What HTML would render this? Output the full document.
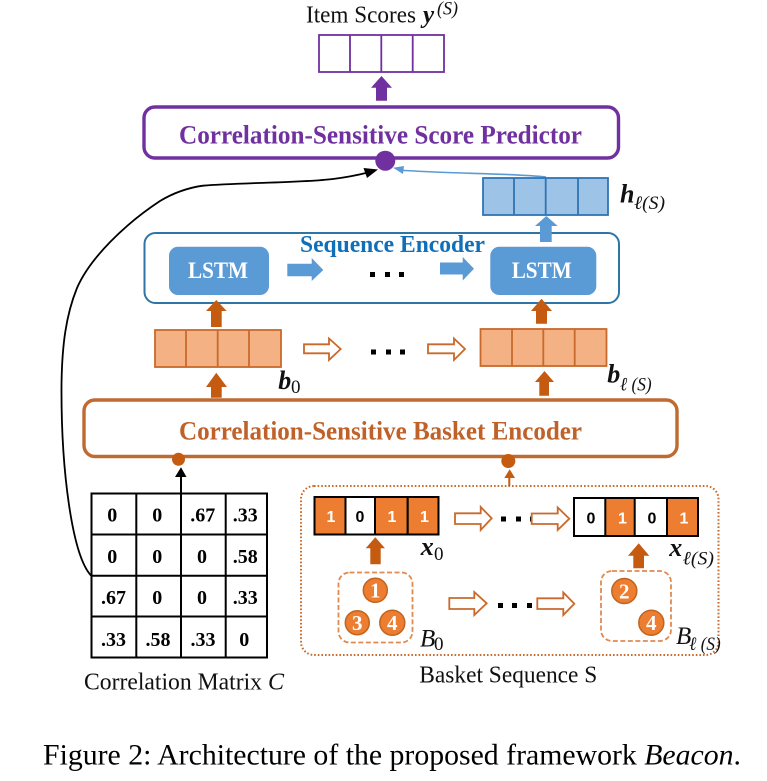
<!DOCTYPE html>
<html><head><meta charset="utf-8"><style>
html,body{margin:0;padding:0;background:#fff;width:767px;height:781px;overflow:hidden}
svg{display:block}
text{font-family:"Liberation Serif",serif}
.b{font-weight:bold}
.i{font-style:italic}
.bi{font-weight:bold;font-style:italic}
.m{font-weight:bold;font-size:20px;text-anchor:middle;fill:#000}
.v{font-family:"Liberation Sans",sans-serif;font-weight:bold;font-size:16px;text-anchor:middle}
.n{font-weight:bold;font-size:22px;text-anchor:middle;fill:#fff}
.l{font-size:24px;fill:#111}
.s{font-style:italic;font-size:19px;fill:#111}
</style></head><body>
<svg width="767" height="781" viewBox="0 0 767 781" xmlns="http://www.w3.org/2000/svg">
<rect width="767" height="781" fill="#fff"/>

<!-- top -->
<text x="306" y="22.5" font-size="24" fill="#111" textLength="110" lengthAdjust="spacingAndGlyphs">Item Scores</text>
<text x="423" y="22.5" font-size="25" class="bi" fill="#111">y</text>
<text x="437" y="14.5" class="s" textLength="21" lengthAdjust="spacingAndGlyphs">(S)</text>
<g fill="none" stroke="#7030A0" stroke-width="1.8">
<rect x="319" y="35" width="125" height="37"/>
<path d="M350 35V72M381.3 35V72M412.7 35V72"/>
</g>
<polygon points="376,100.7 376,87.7 371,87.7 381.5,76 392,87.7 387,87.7 387,100.7" fill="#7030A0"/>
<rect x="144" y="107" width="474.5" height="51" rx="11" fill="#fff" stroke="#7030A0" stroke-width="3.4"/>
<text x="179" y="143.5" font-size="26" class="b" fill="#7030A0" textLength="403" lengthAdjust="spacingAndGlyphs">Correlation-Sensitive Score Predictor</text>
<circle cx="385.3" cy="160.7" r="10" fill="#7030A0"/>

<!-- blue connector -->
<path d="M546 177 C 510 173 450 174 398 170" fill="none" stroke="#5B9BD5" stroke-width="1.6"/>
<polygon points="393,167.7 404,166 403,174" fill="#5B9BD5"/>
<!-- h array -->
<g fill="#9DC3E6" stroke="#2E75B6" stroke-width="1.8">
<rect x="483" y="178" width="125" height="37"/>
<path d="M514 178V215M545.7 178V215M578 178V215" fill="none"/>
</g>
<text x="620" y="202.7" font-size="26" class="bi" fill="#111">h</text>
<text x="634" y="209" class="s" textLength="31" lengthAdjust="spacingAndGlyphs">ℓ(S)</text>

<!-- sequence encoder -->
<rect x="144.5" y="233" width="474.5" height="70" rx="11" fill="none" stroke="#2E75A6" stroke-width="2"/>
<polygon points="540,242 540,226 535,226 546.3,216 557.7,226 551.7,226 551.7,242" fill="#5B9BD5"/>
<text x="300" y="252" font-size="24" class="b" fill="#0F6FB8" textLength="185" lengthAdjust="spacingAndGlyphs">Sequence Encoder</text>
<rect x="169" y="246.7" width="100" height="48.3" rx="9" fill="#5B9BD5"/>
<rect x="490.3" y="246.7" width="106" height="48.3" rx="9" fill="#5B9BD5"/>
<text x="188" y="278" font-size="23" class="b" fill="#fff" textLength="60" lengthAdjust="spacingAndGlyphs">LSTM</text>
<text x="511.7" y="278" font-size="23" class="b" fill="#fff" textLength="60" lengthAdjust="spacingAndGlyphs">LSTM</text>
<polygon points="287.3,263.7 311.7,263.7 311.7,258 323.3,270 311.7,281 311.7,276.3 287.3,276.3" fill="#5B9BD5"/>
<polygon points="440,262.5 462.7,262.5 462.7,257 474,268.7 462.7,280.5 462.7,274.5 440,274.5" fill="#5B9BD5"/>
<g fill="#000">
<rect x="370" y="272" width="5" height="5"/><rect x="385" y="272" width="5" height="5"/><rect x="399" y="272" width="5" height="5"/>
<rect x="371" y="349.5" width="5" height="5"/><rect x="386" y="349.5" width="5" height="5"/><rect x="400" y="349.5" width="5" height="5"/>
<rect x="501" y="516.5" width="5" height="5"/><rect x="516" y="516.5" width="5" height="5"/><rect x="530" y="516.5" width="5" height="5"/>
<rect x="498" y="603" width="5" height="5"/><rect x="512" y="603" width="5" height="5"/><rect x="527" y="603" width="5" height="5"/>
</g>

<!-- orange arrays -->
<g fill="#F4B183" stroke="#C96A2C" stroke-width="1.8">
<rect x="155" y="330" width="126" height="37"/>
<path d="M186 330V367M217.7 330V367M249 330V367" fill="none"/>
<rect x="480.5" y="329" width="126" height="37"/>
<path d="M512 329V366M543.3 329V366M574.7 329V366" fill="none"/>
</g>
<g fill="#C55A11">
<polygon points="211,327 211,311 206,311 216.3,300 226.7,311 221.7,311 221.7,327"/>
<polygon points="211,397.7 211,387 206,387 216.3,372.7 227,387 221.7,387 221.7,397.7"/>
<polygon points="536,323.7 536,311 531,311 541.5,298.7 552,311 547,311 547,323.7"/>
<polygon points="539.3,395.7 539.3,382 535,382 544.5,371 554,382 549,382 549,395.7"/>
<polygon points="370.3,564.3 370.3,548.3 365.7,548.3 375.3,537.3 385,548.3 380.7,548.3 380.7,564.3"/>
<polygon points="633.3,568.3 633.3,555.7 628,555.7 638.7,543.3 649.3,555.7 644,555.7 644,568.3"/>
</g>
<!-- hollow arrows -->
<g fill="#fff" stroke="#C96A2C" stroke-width="1.8">
<polygon points="304,344.3 329,344.3 329,338.5 340.7,349 329,360 329,353.3 304,353.3"/>
<polygon points="428,344.3 454,344.3 454,338.5 465,349 454,360 454,353.3 428,353.3"/>
<polygon points="455,513.3 480.7,513.3 480.7,507 491.7,518.3 480.7,530 480.7,524 455,524"/>
<polygon points="531.7,513.5 557.7,513.5 557.7,507.5 569.3,518.7 557.7,530 557.7,524 531.7,524"/>
<polygon points="449.3,598 474.3,598 474.3,592 486.7,603.3 474.3,615 474.3,609 449.3,609"/>
<polygon points="537.3,598.3 563.3,598.3 563.3,592.5 574.3,603.7 563.3,615 563.3,609 537.3,609"/>
</g>
<text x="278.3" y="389" font-size="26" class="bi" fill="#111">b</text>
<text x="291" y="393" font-size="19" fill="#111">0</text>
<text x="607.3" y="382.7" font-size="26" class="bi" fill="#111">b</text>
<text x="620" y="390.7" class="s" textLength="31.7" lengthAdjust="spacingAndGlyphs">ℓ (S)</text>

<!-- basket encoder -->
<rect x="84" y="400" width="593" height="56.5" rx="11" fill="#fff" stroke="#BF6A30" stroke-width="3.4"/>
<text x="179" y="439.5" font-size="26" class="b" fill="#BF6128" textLength="403" lengthAdjust="spacingAndGlyphs">Correlation-Sensitive Basket Encoder</text>
<circle cx="178.5" cy="459.3" r="6.5" fill="#C55A11"/>
<circle cx="508.3" cy="461" r="7" fill="#C55A11"/>

<!-- matrix -->
<g fill="none" stroke="#000" stroke-width="2">
<rect x="91.5" y="493.5" width="175.5" height="164"/>
<path d="M136.3 493.5V657.5M181 493.5V657.5M225.7 493.5V657.5M91.5 534.5H267M91.5 575.7H267M91.5 616.5H267"/>
</g>
<path d="M181 493V476" stroke="#000" stroke-width="2" fill="none"/>
<polygon points="181,467.3 175,477 186.5,477" fill="#000"/>
<text class="m" x="112.3" y="521.7">0</text><text class="m" x="157.3" y="521.7">0</text><text class="m" x="202.7" y="521.7">.67</text><text class="m" x="245.3" y="521.7">.33</text>
<text class="m" x="112.3" y="563">0</text><text class="m" x="157.3" y="563">0</text><text class="m" x="202" y="563">0</text><text class="m" x="245.3" y="563">.58</text>
<text class="m" x="113.5" y="604">.67</text><text class="m" x="157.3" y="604">0</text><text class="m" x="202" y="604">0</text><text class="m" x="245.3" y="604">.33</text>
<text class="m" x="113.5" y="646">.33</text><text class="m" x="158" y="646">.58</text><text class="m" x="203" y="646">.33</text><text class="m" x="244.3" y="646">0</text>
<text x="84" y="689.5" class="l" textLength="178" lengthAdjust="spacingAndGlyphs">Correlation Matrix</text>
<text x="268" y="689.5" class="l i">C</text>

<!-- black curve -->
<path d="M91 575.5 C 72 555 61 470 61.5 385 C 62 345 66 315 77 288 C 90 258 125 224 160 201 C 175 192 190 187.5 203 185.7 C 240 182.5 300 183 333 179 C 345 177.5 358 175 368 172.5" fill="none" stroke="#000" stroke-width="1.8"/>
<polygon points="378,169.5 363.5,168 367,178" fill="#000"/>

<!-- basket sequence -->
<rect x="301" y="486" width="417.5" height="169" rx="13" fill="none" stroke="#C96A2C" stroke-width="2" stroke-dasharray="1.6 2"/>
<path d="M509.3 486V477" stroke="#C55A11" stroke-width="2"/>
<polygon points="509.7,469.3 504.3,478 515,478" fill="#C55A11"/>
<g stroke="#000" stroke-width="2">
<rect x="314.5" y="497" width="124" height="37.5" fill="#fff"/>
<rect x="314.5" y="497" width="31" height="37.5" fill="#ED7D31"/>
<rect x="375" y="497" width="32.7" height="37.5" fill="#ED7D31"/>
<rect x="407.7" y="497" width="30.8" height="37.5" fill="#ED7D31"/>
<rect x="574" y="498" width="124" height="38" fill="#fff"/>
<rect x="605.3" y="498" width="29.4" height="38" fill="#ED7D31"/>
<rect x="667" y="498" width="31" height="38" fill="#ED7D31"/>
</g>
<text class="v" x="331" y="522" fill="#fff">1</text><text class="v" x="360" y="522" fill="#000">0</text><text class="v" x="392" y="522" fill="#fff">1</text><text class="v" x="424.5" y="522" fill="#fff">1</text>
<text class="v" x="591" y="523.5" fill="#000">0</text><text class="v" x="622.5" y="523.5" fill="#fff">1</text><text class="v" x="652" y="523.5" fill="#000">0</text><text class="v" x="684" y="523.5" fill="#fff">1</text>
<text x="420.7" y="555" font-size="26" class="bi" fill="#111">x</text>
<text x="434" y="560" font-size="19" fill="#111">0</text>
<text x="669.3" y="556" font-size="26" class="bi" fill="#111">x</text>
<text x="682.7" y="564.3" class="s" textLength="31.3" lengthAdjust="spacingAndGlyphs">ℓ(S)</text>

<rect x="338.5" y="572.5" width="74" height="70" rx="11" fill="none" stroke="#E08A50" stroke-width="1.8" stroke-dasharray="5 2.5"/>
<rect x="601" y="571" width="70" height="70" rx="11" fill="none" stroke="#E08A50" stroke-width="1.8" stroke-dasharray="5 2.5"/>
<g fill="#ED7D31" stroke="#C0651F" stroke-width="1.5">
<circle cx="375.3" cy="590.3" r="12"/><circle cx="357.3" cy="622.7" r="12"/><circle cx="392.3" cy="622.7" r="12.5"/>
<circle cx="624.3" cy="591" r="12.5"/><circle cx="651.3" cy="622.7" r="12.5"/>
</g>
<text class="n" x="375.3" y="597.5" style="font-size:21px">1</text><text class="n" x="357.3" y="630" style="font-size:21px">3</text><text class="n" x="392.3" y="630" style="font-size:21px">4</text>
<text class="n" x="624.3" y="598.5" style="font-size:21px">2</text><text class="n" x="651.3" y="630" style="font-size:21px">4</text>
<text x="420" y="646.7" font-size="25" class="i" fill="#111">B</text>
<text x="434" y="650" font-size="19" fill="#111">0</text>
<text x="676" y="644" font-size="25" class="i" fill="#111">B</text>
<text x="689.3" y="650" class="s" textLength="31.4" lengthAdjust="spacingAndGlyphs">ℓ (S)</text>
<text x="419.3" y="682.7" class="l" textLength="178" lengthAdjust="spacingAndGlyphs">Basket Sequence S</text>

<!-- caption -->
<text x="43" y="764.5" font-size="29.5" fill="#000" textLength="698" lengthAdjust="spacingAndGlyphs">Figure 2: Architecture of the proposed framework <tspan font-style="italic">Beacon</tspan>.</text>
</svg>
</body></html>
